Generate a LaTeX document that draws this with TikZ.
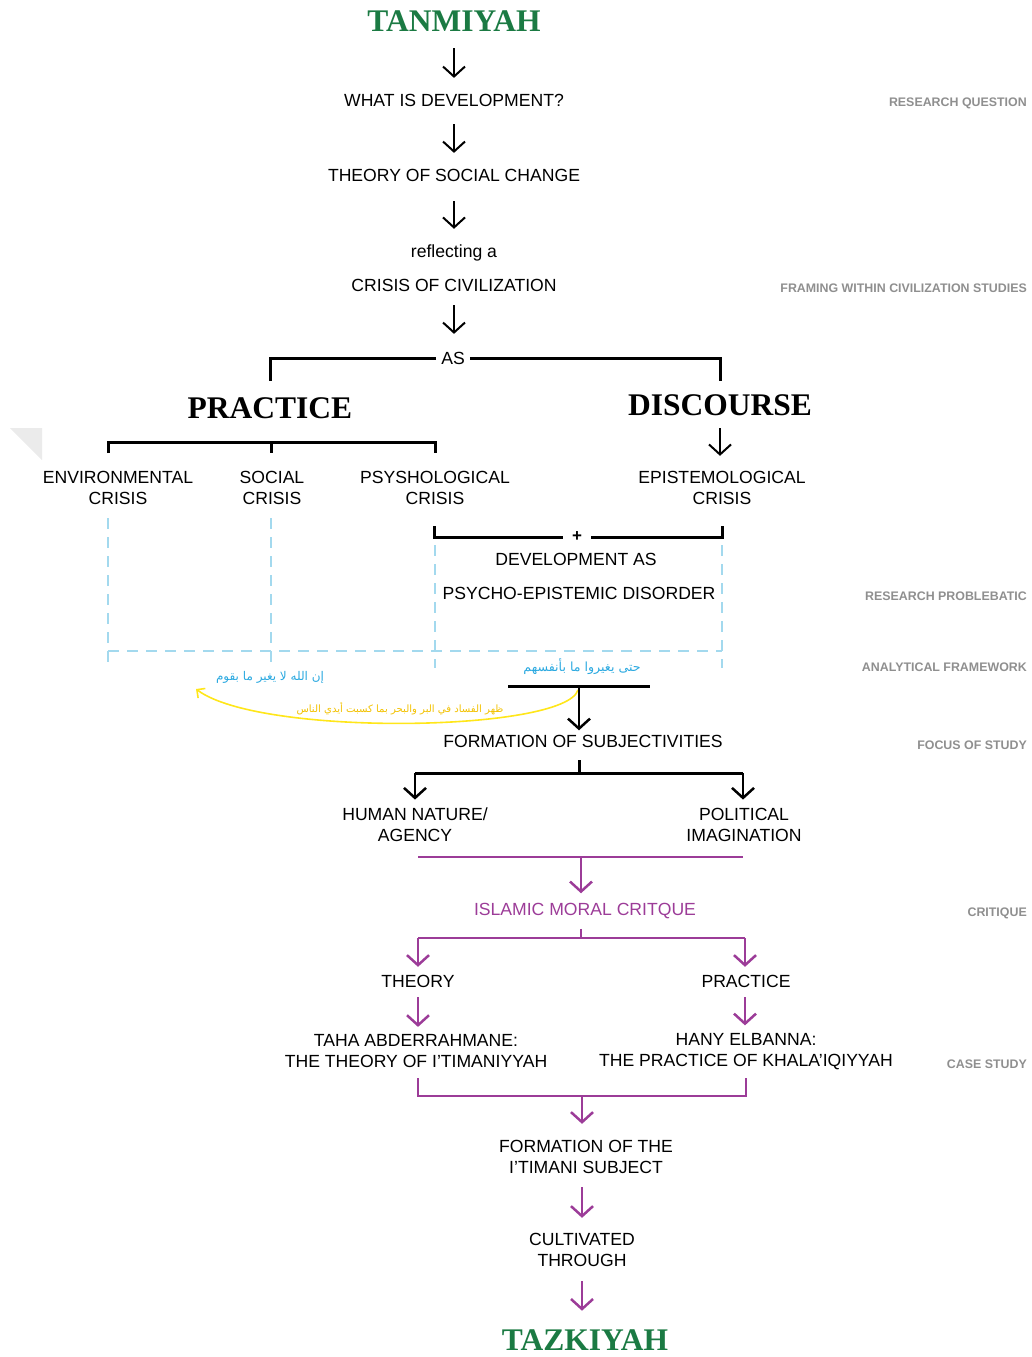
\documentclass[tikz,border=0pt]{standalone}
\usepackage{fontspec}
\setmainfont{Liberation Sans}
\newfontfamily\titlefont{Liberation Serif}
\newfontfamily\arabicfont[Script=Arabic]{DejaVu Sans}
\TeXXeTstate=1
\usetikzlibrary{arrows.meta}
\definecolor{tgreen}{HTML}{1B7A43}
\definecolor{tpurple}{HTML}{9C3C98}
\definecolor{tblue}{HTML}{2BA9E0}
\definecolor{tdash}{HTML}{A3D9EE}
\definecolor{tyellow}{HTML}{FFE61A}
\definecolor{tyeltext}{HTML}{F2C100}
\definecolor{tgray}{HTML}{8F8F8F}
\tikzset{
  txt/.style={font=\fontsize{17.6}{21}\selectfont, inner sep=0pt, align=center},
  ptxt/.style={txt, text=tpurple},
  ttl/.style={font=\titlefont\bfseries\fontsize{31.5}{31.5}\selectfont, inner sep=0pt},
  lab/.style={font=\bfseries\fontsize{12.4}{14}\selectfont, text=tgray, inner sep=0pt, anchor=east},
  ar/.style={font=\fontsize{12}{13}\selectfont, inner sep=0pt},
  brk/.style={draw=black, line width=3pt},
  pbrk/.style={draw=tpurple, line width=2.5pt},
  arr/.style={draw=black, line width=2pt, -{Straight Barb[length=10pt,width=22pt]}},
  parr/.style={draw=tpurple, line width=2.5pt, -{Straight Barb[length=10pt,width=22pt]}},
  dsh/.style={draw=tdash, line width=1.3pt, dash pattern=on 11pt off 8pt},
}
\begin{document}
\begin{tikzpicture}[x=1pt,y=-1pt]
\useasboundingbox (0,0) rectangle (1031,1357);
\fill[black!8] (10,428) -- (42,428) -- (42,460) -- cycle;

% right-hand labels
\node[lab] (l1) at (1027,103) {RESEARCH QUESTION};
\node[lab] (l2) at (1027,288) {FRAMING WITHIN CIVILIZATION STUDIES};
\node[lab] (l3) at (1027,596) {RESEARCH PROBLEBATIC};
\node[lab] (l4) at (1027,667) {ANALYTICAL FRAMEWORK};
\node[lab] (l5) at (1027,745) {FOCUS OF STUDY};
\node[lab] (l6) at (1027,913) {CRITIQUE};
\node[lab] (l7) at (1027,1064) {CASE STUDY};

% top chain
\node[ttl, text=tgreen] (tanmiyah) at (454,21) {TANMIYAH};
\node[txt] (q) at (454,100) {WHAT IS DEVELOPMENT?};
\node[txt] (theory) at (454,175) {THEORY OF SOCIAL CHANGE};
\node[txt] (refl) at (454,253) {reflecting a};
\node[txt] (crisis) at (454,285) {CRISIS OF CIVILIZATION};
\node[txt, inner sep=5pt] (as) at (453,358) {AS};
\draw[arr, shorten <=16.7pt, shorten >=15.7pt] (tanmiyah) -- (q);
\draw[arr, shorten <=17.7pt, shorten >=15.7pt] (q) -- (theory);
\draw[arr, shorten <=19.7pt, shorten >=15.8pt] (theory) -- (refl);
\draw[arr, shorten <=13.7pt, shorten >=12.7pt] (crisis) -- (as.north -| crisis);

% practice / discourse
\node[ttl] (practice) at (270,408) {PRACTICE};
\node[ttl] (discourse) at (720,405) {DISCOURSE};
\draw[brk, shorten >=16.7pt] (as) -| (practice);
\draw[brk, shorten >=13.7pt] (as) -| (discourse);

\node[txt] (env) at (118,487.5) {ENVIRONMENTAL\\CRISIS};
\node[txt] (soc) at (272,487.5) {SOCIAL\\CRISIS};
\node[txt] (psy) at (435,487.5) {PSYSHOLOGICAL\\CRISIS};
\node[txt] (epi) at (722,487.5) {EPISTEMOLOGICAL\\CRISIS};

\coordinate (pbL) at (108,453);
\coordinate (pbM) at (271,453);
\coordinate (pbR) at (435,453);
\coordinate (pbT) at (271,442);
\draw[brk] (pbL) |- (pbT) -| (pbR);
\draw[brk] (pbT) -- (pbM);
\draw[arr, shorten <=12.7pt, shorten >=14.75pt] (discourse) -- (epi.north -| discourse);

% bracket + development as
\node[font=\bfseries\fontsize{17}{17}\selectfont, inner xsep=9pt, inner ysep=0pt] (plus) at (577,537) {+};
\coordinate (ebL) at (434,526);
\coordinate (ebR) at (722,526);
\draw[brk] (ebL) |- (plus);
\draw[brk] (ebR) |- (plus);
\node[txt] (devas) at (576,559) {DEVELOPMENT AS};
\node[txt] (pedis) at (579,593) {PSYCHO-EPISTEMIC DISORDER};

% dashed framework
\coordinate (d1t) at (108,518); \coordinate (d1b) at (108,668);
\coordinate (d2t) at (271,518); \coordinate (d2b) at (271,668);
\coordinate (d3t) at (435,545); \coordinate (d3b) at (435,668);
\coordinate (d4t) at (722,545); \coordinate (d4b) at (722,668);
\coordinate (dhL) at (108,651); \coordinate (dhR) at (722,651);
\draw[dsh] (d1t) -- (d1b);
\draw[dsh] (d2t) -- (d2b);
\draw[dsh] (d3t) -- (d3b);
\draw[dsh] (d4t) -- (d4b);
\draw[dsh] (dhL) -- (dhR);

% arabic verses
\node[ar, text=tblue] (arL) at (270,677) {\arabicfont\beginR إن الله لا يغير ما بقوم\endR};
\node[ar, text=tblue, font=\fontsize{12.6}{13}\selectfont] (arR) at (582,667) {\arabicfont\beginR حتى يغيروا ما بأنفسهم\endR};
\node[ar, text=tyeltext, font=\fontsize{10.1}{12}\selectfont] (arY) at (400,709) {\arabicfont\beginR ظهر الفساد في البر والبحر بما كسبت أيدي الناس\endR};

\coordinate (barL) at (508,686);
\coordinate (barR) at (650,686);
\coordinate (barM) at (579,686);
\coordinate (ycs) at (578,690);
\coordinate (yce) at (196,689);
\draw[draw=tyellow, line width=1.6pt, -{Straight Barb[length=6pt,width=12pt]}] (ycs) .. controls (565,732) and (260,737) .. (yce);
\draw[brk] (barL) -- (barR);

\node[txt] (form) at (583,741) {FORMATION OF SUBJECTIVITIES};
\draw[arr, line width=2.5pt, shorten >=10.7pt] (barM) -- (form.center -| barM);

\coordinate (fs) at (579,760);
\coordinate (fj) at (579,773);
\coordinate (hL) at (415,773);
\coordinate (hR) at (743,773);
\draw[brk] (fs) -- (fj);
\draw[brk] (hL) -- (hR);
\node[txt] (human) at (415,824.5) {HUMAN NATURE/\\AGENCY};
\node[txt] (pol) at (744,824.5) {POLITICAL\\IMAGINATION};
\draw[arr, line width=2.5pt, shorten >=7.75pt] (hL) -- (human);
\draw[arr, line width=2.5pt, shorten >=7.75pt] (hR) -- (human.north -| hR);

% purple part
\coordinate (puL) at (418,857);
\coordinate (puR) at (743,857);
\coordinate (puM) at (581,857);
\draw[pbrk] (puL) -- (puR);
\node[ptxt] (imc) at (585,911) {ISLAMIC MORAL CRITQUE};
\draw[parr, shorten >=9.75pt] (puM) -- (imc.north -| puM);
\coordinate (pj) at (581,938);
\coordinate (pjL) at (418,938);
\coordinate (pjR) at (745,938);
\draw[pbrk, shorten <=9.75pt] (imc.south -| pj) -- (pj);
\draw[pbrk] (pjL) -- (pjR);
\node[txt] (th) at (418,981) {THEORY};
\node[txt] (pr) at (746,981) {PRACTICE};
\draw[parr, shorten >=7.75pt] (pjL) -- (th);
\draw[parr, shorten >=7.75pt] (pjR) -- (pr.north -| pjR);
\node[txt] (taha) at (416,1051.5) {TAHA ABDERRAHMANE:\\THE THEORY OF I’TIMANIYYAH};
\node[txt] (hany) at (746,1051.5) {HANY ELBANNA:\\THE PRACTICE OF KHALA’IQIYYAH};
\draw[parr, shorten <=9.75pt, shorten >=7.75pt] (th) -- (taha.north -| th);
\draw[parr, shorten <=9.75pt, shorten >=7.75pt] (pr.south -| pjR) -- (hany.north -| pjR);

\coordinate (bL) at (418,1078);
\coordinate (bR) at (746,1078);
\coordinate (bB) at (582,1096);
\draw[pbrk] (bL) |- (bB) -| (bR);
\node[txt] (fts) at (586,1156.5) {FORMATION OF THE\\I’TIMANI SUBJECT};
\draw[parr, shorten >=15.75pt] (bB) -- (fts.north -| bB);
\node[txt] (cult) at (582,1249.5) {CULTIVATED\\THROUGH};
\draw[parr, shorten <=13.75pt, shorten >=14.75pt] (fts.south -| cult) -- (cult);
\node[ttl, text=tgreen] (tazkiyah) at (585,1340) {TAZKIYAH};
\draw[parr, shorten <=14.75pt, shorten >=18.7pt] (cult) -- (tazkiyah.north -| cult);
\end{tikzpicture}
\end{document}
